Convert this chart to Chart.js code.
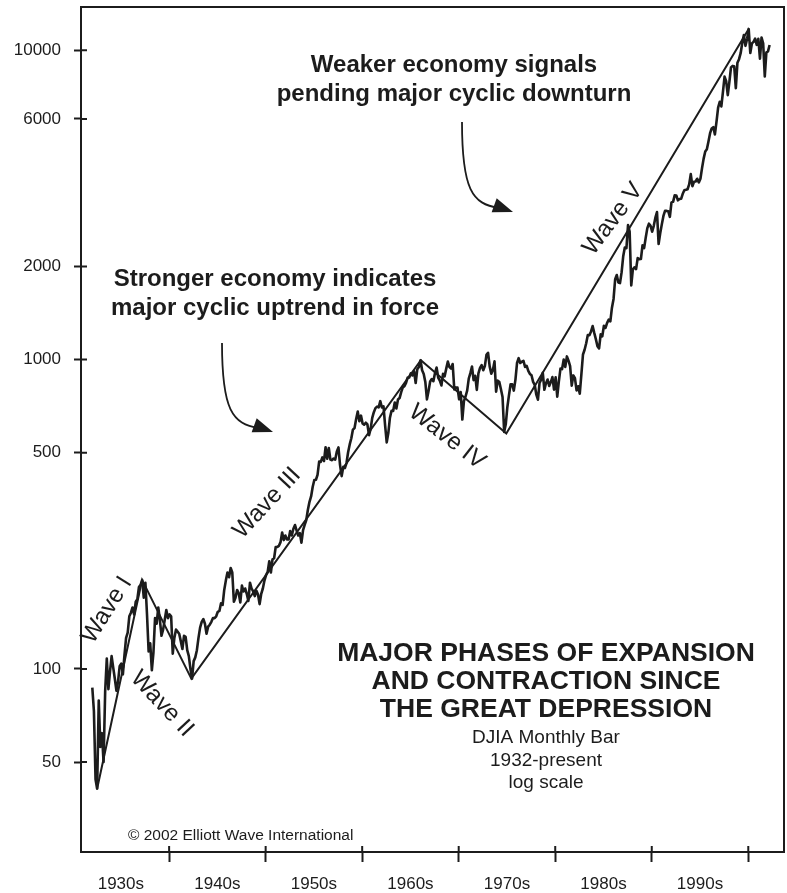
<!DOCTYPE html>
<html>
<head>
<meta charset="utf-8">
<title>DJIA Monthly Bar 1932-present</title>
<script src="https://cdn.jsdelivr.net/npm/chart.js@4/dist/chart.umd.min.js"></script>
<style>
  html, body { margin: 0; padding: 0; background: #fff; }
  #wrap { width: 787px; height: 893px; position: relative; }
</style>
</head>
<body>
<div id="wrap"><canvas id="chart"></canvas></div>
<script>
// DJIA, six readings a year (Jan, Mar, May, Jul, Sep, Nov)
const firstYear = 1932;
const slotsPerYear = 6;

const djia1930s = [
  87, 73, 44, 41, 79, 56,
  62, 50, 85, 108, 86, 98,
  110, 101, 93, 85, 91, 102,
  104, 96, 111, 126, 131, 148,
  152, 158, 150, 165, 168, 184,
  187, 194, 170, 190, 150, 114,
  121, 99, 113, 146, 140, 158,
  144, 128, 134, 144, 155, 146
];
const djia1940s = [
  150, 148, 112, 126, 134, 132,
  130, 123, 116, 128, 127, 115,
  110, 100, 93, 106, 109, 115,
  126, 136, 142, 145, 140, 130,
  137, 139, 142, 146, 146, 148,
  153, 154, 163, 161, 180, 193,
  205, 198, 212, 205, 165, 170,
  180, 176, 164, 186, 178, 182,
  175, 166, 190, 182, 178, 172,
  179, 174, 162, 175, 182, 193
];
const djia1950s = [
  201, 206, 223, 205, 226, 228,
  248, 248, 250, 257, 276, 261,
  270, 262, 262, 279, 270, 284,
  292, 280, 270, 275, 256, 281,
  292, 303, 327, 347, 361, 388,
  408, 409, 424, 468, 467, 483,
  470, 521, 478, 518, 475, 473,
  479, 475, 505, 520, 456, 420,
  450, 446, 463, 502, 532, 557,
  594, 601, 643, 679, 632, 659
];
const djia1960s = [
  622, 616, 625, 617, 570, 597,
  648, 676, 697, 705, 701, 734,
  700, 706, 613, 540, 579, 649,
  683, 682, 727, 695, 743, 751,
  785, 813, 820, 841, 875, 875,
  903, 889, 918, 840, 931, 946,
  995, 924, 899, 847, 744, 791,
  850, 865, 852, 904, 943, 875,
  855, 825, 899, 883, 935, 985,
  946, 935, 968, 801, 813, 812
];
const djia1970s = [
  744, 785, 640, 734, 760, 794,
  868, 904, 950, 858, 887, 798,
  902, 940, 960, 924, 953, 1036,
  1052, 951, 901, 926, 987, 788,
  855, 846, 802, 757, 584, 618,
  703, 768, 832, 832, 794, 860,
  975, 1011, 975, 984, 990, 947,
  954, 919, 899, 890, 847, 829,
  770, 742, 841, 862, 907, 799,
  839, 862, 822, 846, 878, 800
];
const djia1980s = [
  876, 759, 850, 935, 932, 1000,
  947, 1024, 992, 952, 824, 889,
  871, 795, 820, 776, 896, 1039,
  1076, 1130, 1200, 1199, 1233, 1284,
  1220, 1165, 1105, 1087, 1207, 1189,
  1287, 1266, 1315, 1347, 1329, 1472,
  1571, 1819, 1877, 1775, 1768, 1914,
  2158, 2304, 2291, 2722, 2596, 1738,
  1958, 1988, 1962, 2129, 2113, 2114,
  2342, 2293, 2480, 2661, 2750, 2706
];
const djia1990s = [
  2591, 2707, 2877, 2999, 2365, 2560,
  2736, 2914, 3027, 3025, 3017, 2895,
  3223, 3236, 3397, 3394, 3272, 3305,
  3310, 3435, 3527, 3540, 3555, 3684,
  3978, 3636, 3758, 3765, 3843, 3739,
  3844, 4158, 4465, 4709, 4789, 5075,
  5395, 5588, 5643, 5346, 5882, 6522,
  6813, 6584, 7331, 8223, 7945, 7161,
  7907, 8800, 8900, 8884, 7539, 9117,
  9359, 9786, 10560, 11200, 10337, 10878
];
const djia2000s = [
  11723, 9800, 10522, 10650, 10900, 10415,
  10887, 9400, 11000, 10523, 8236, 9852,
  9920, 10404
];

// Elliott wave turning points
const waveYears = [1932.54, 1937.2, 1942.3, 1966.08, 1974.93, 2000.04];
const waveValues = [41, 194, 93, 995, 577, 11723];

const yTicks = [50, 100, 500, 1000, 2000, 6000, 10000];
const decadeLabels = ['1930s', '1940s', '1950s', '1960s', '1970s', '1980s', '1990s'];
const decadeStarts = [1930, 1940, 1950, 1960, 1970, 1980, 1990];

const ink = '#1c1c1c';
const face = '"Liberation Sans", Arial, Helvetica, sans-serif';

const allValues = [].concat(djia1930s, djia1940s, djia1950s, djia1960s, djia1970s, djia1980s, djia1990s, djia2000s);
const series = allValues.map((v, i) => ({ x: firstYear + (i + 0.25) / slotsPerYear, y: v }));
const waves = waveYears.map((yr, i) => ({ x: yr, y: waveValues[i] }));

// label ticks at mid-decade, tick marks at decade boundaries
const xTickValues = [];
decadeStarts.forEach(d => { xTickValues.push(d + 5, d + 10); });

function noPad(s) {
  s.paddingTop = 0;
  s.paddingBottom = 0;
  s.paddingLeft = 0;
  s.paddingRight = 0;
}

function label(ctx, str, x, y, font, angle) {
  ctx.save();
  ctx.translate(x, y);
  ctx.rotate((angle || 0) * Math.PI / 180);
  ctx.font = font;
  ctx.fillStyle = ink;
  ctx.textAlign = 'center';
  ctx.textBaseline = 'middle';
  ctx.fillText(str, 0, 0);
  ctx.restore();
}

function curvedArrow(ctx, x0, y0, tipX, tipY) {
  const c1x = x0, c1y = y0 + (tipY - y0) * 0.75;
  const c2x = x0 + (tipX - x0) * 0.2, c2y = tipY - 8;
  const endX = tipX - 14, endY = tipY - 4;
  ctx.save();
  ctx.strokeStyle = ink;
  ctx.fillStyle = ink;
  ctx.lineWidth = 1.8;
  ctx.beginPath();
  ctx.moveTo(x0, y0);
  ctx.bezierCurveTo(c1x, c1y, c2x, c2y, endX, endY);
  ctx.stroke();
  const ang = Math.atan2(tipY - endY + 1, tipX - endX);
  ctx.translate(tipX, tipY);
  ctx.rotate(ang);
  ctx.beginPath();
  ctx.moveTo(0, 0);
  ctx.lineTo(-20, -7.5);
  ctx.lineTo(-20, 7.5);
  ctx.closePath();
  ctx.fill();
  ctx.restore();
}

const decor = {
  id: 'decor',
  afterDraw(chart) {
    const { ctx, chartArea: a, scales: { x, y } } = chart;
    ctx.save();
    ctx.strokeStyle = ink;
    ctx.lineWidth = 2;
    // top and right frame
    ctx.beginPath();
    ctx.moveTo(a.left, a.top);
    ctx.lineTo(a.right, a.top);
    ctx.lineTo(a.right, a.bottom + 1);
    ctx.stroke();
    // inner half of the tick marks
    ctx.beginPath();
    yTicks.forEach(v => {
      const py = y.getPixelForValue(v);
      ctx.moveTo(a.left, py);
      ctx.lineTo(a.left + 6, py);
    });
    decadeStarts.forEach(d => {
      const px = x.getPixelForValue(d + 10);
      ctx.moveTo(px, a.bottom);
      ctx.lineTo(px, a.bottom - 6);
    });
    ctx.stroke();
    ctx.restore();

    const bold = 'bold 24px ' + face;
    label(ctx, 'Weaker economy signals', 454, 65, bold);
    label(ctx, 'pending major cyclic downturn', 454, 94, bold);
    label(ctx, 'Stronger economy indicates', 275, 279, bold);
    label(ctx, 'major cyclic uptrend in force', 275, 308, bold);
    curvedArrow(ctx, 462, 122, 513, 212);
    curvedArrow(ctx, 222, 343, 273, 432);

    const waveFont = '24px ' + face;
    label(ctx, 'Wave I', 107, 610, waveFont, -58);
    label(ctx, 'Wave II', 162, 704, waveFont, 47);
    label(ctx, 'Wave III', 267, 503, waveFont, -47);
    label(ctx, 'Wave IV', 447, 437, waveFont, 38);
    label(ctx, 'Wave V', 613, 219, waveFont, -53);

    const title = 'bold 26.5px ' + face;
    label(ctx, 'MAJOR PHASES OF EXPANSION', 546, 654, title);
    label(ctx, 'AND CONTRACTION SINCE', 546, 682, title);
    label(ctx, 'THE GREAT DEPRESSION', 546, 710, title);
    const sub = '19px ' + face;
    label(ctx, 'DJIA Monthly Bar', 546, 738, sub);
    label(ctx, '1932-present', 546, 761, sub);
    label(ctx, 'log scale', 546, 783, sub);

    ctx.save();
    ctx.font = '15.5px ' + face;
    ctx.fillStyle = ink;
    ctx.textAlign = 'left';
    ctx.textBaseline = 'middle';
    ctx.fillText('\u00A9 2002 Elliott Wave International', 128, 836);
    ctx.restore();
  }
};

new Chart(document.getElementById('chart'), {
  type: 'line',
  data: {
    datasets: [
      {
        label: 'DJIA',
        data: series,
        borderColor: ink,
        borderWidth: 2.6,
        pointRadius: 0,
        tension: 0,
        borderJoinStyle: 'round'
      },
      {
        label: 'Waves',
        data: waves,
        borderColor: ink,
        borderWidth: 2,
        pointRadius: 0,
        tension: 0
      }
    ]
  },
  options: {
    responsive: true,
    maintainAspectRatio: false,
    animation: false,
    layout: { padding: { top: 7, right: 3, left: 0, bottom: 0 } },
    plugins: {
      legend: { display: false },
      tooltip: { enabled: false }
    },
    scales: {
      x: {
        type: 'linear',
        min: 1930.87,
        max: 2003.7,
        afterBuildTicks: s => { s.ticks = xTickValues.map(v => ({ value: v })); },
        afterFit: s => { s.height = 41; noPad(s); },
        ticks: {
          autoSkip: false,
          maxRotation: 0,
          padding: 12,
          color: ink,
          font: { family: face, size: 17 },
          callback: v => {
            const i = decadeStarts.indexOf(v - 5);
            return i >= 0 ? decadeLabels[i] : '';
          }
        },
        grid: {
          drawOnChartArea: false,
          tickLength: 10,
          tickWidth: 2,
          tickColor: c => (c.tick && c.tick.value % 10 === 0) ? ink : 'rgba(0,0,0,0)'
        },
        border: { color: ink, width: 2 }
      },
      y: {
        type: 'logarithmic',
        min: 25.6,
        max: 13800,
        afterBuildTicks: s => { s.ticks = yTicks.map(v => ({ value: v })); },
        afterFit: s => { s.width = 81; noPad(s); },
        ticks: {
          padding: 13,
          color: ink,
          font: { family: face, size: 17 },
          callback: v => String(v)
        },
        grid: {
          drawOnChartArea: false,
          tickLength: 7,
          tickWidth: 2,
          tickColor: ink
        },
        border: { color: ink, width: 2 }
      }
    }
  },
  plugins: [decor]
});
</script>
</body>
</html>
